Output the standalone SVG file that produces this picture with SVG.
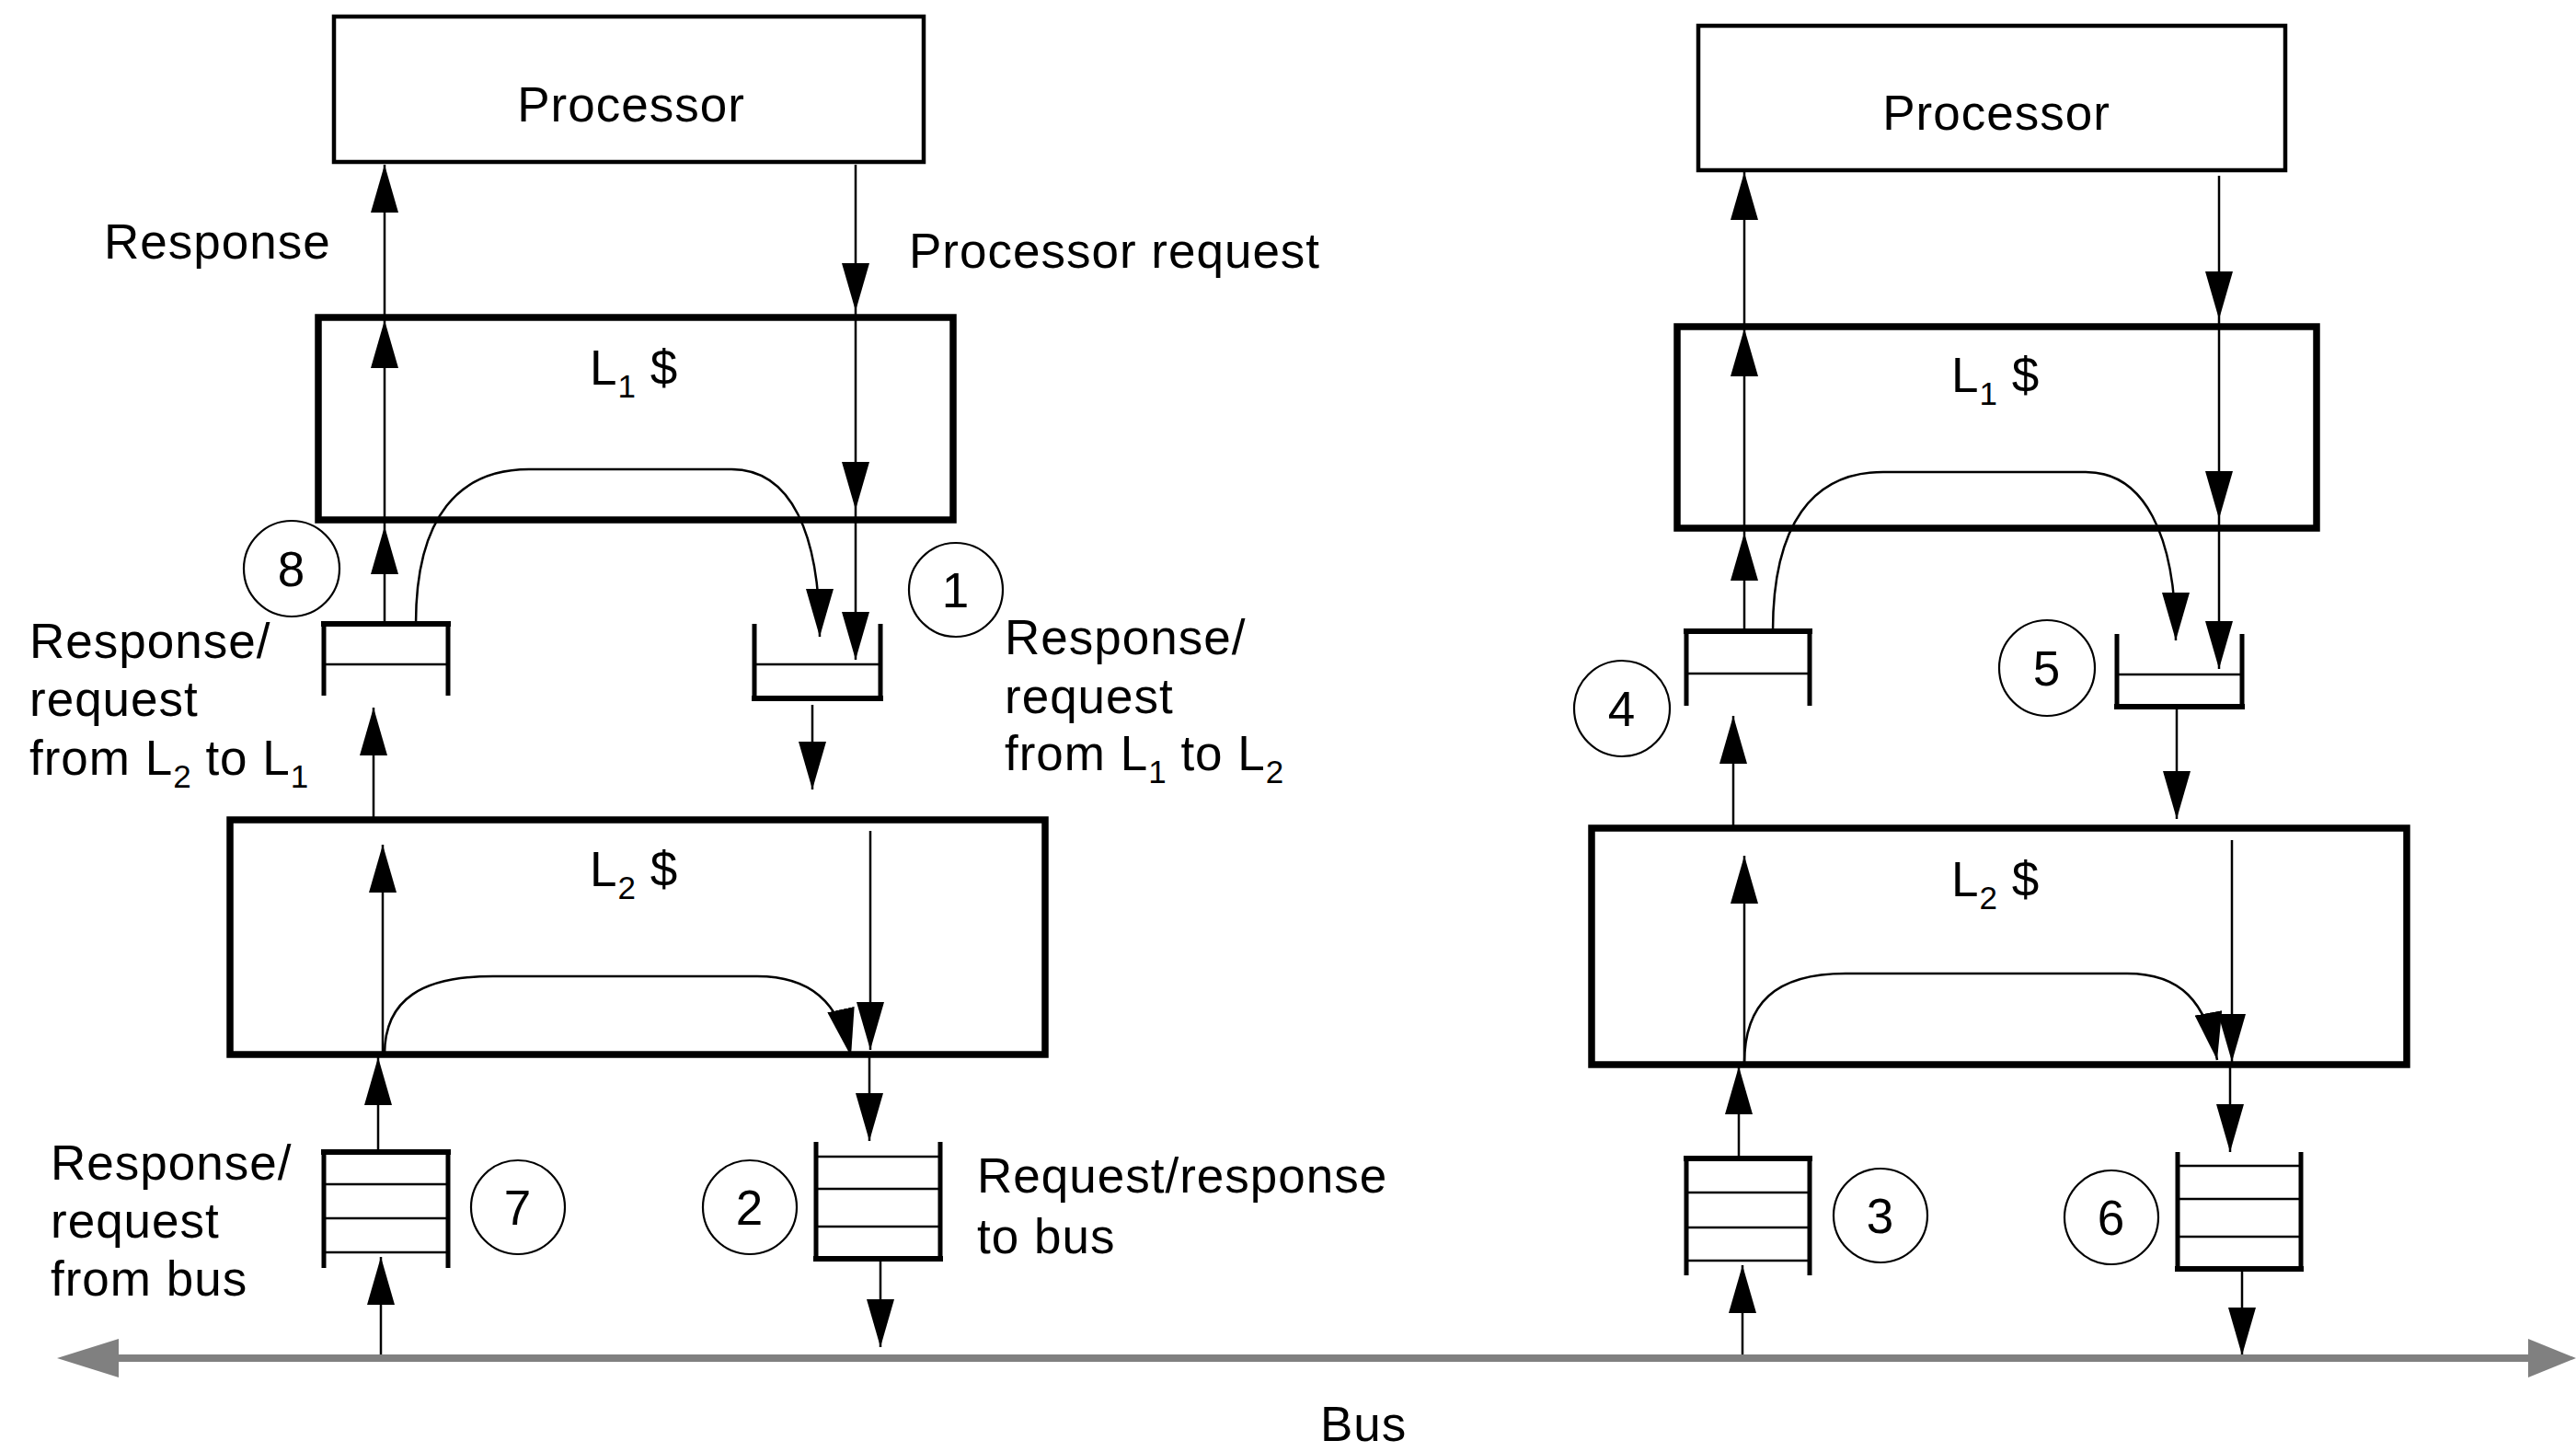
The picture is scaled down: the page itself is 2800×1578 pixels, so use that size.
<svg xmlns="http://www.w3.org/2000/svg" width="2800" height="1578" viewBox="0 0 2800 1578">
<defs>
<marker id="ah" markerUnits="userSpaceOnUse" markerWidth="52" markerHeight="30" viewBox="0 0 52 30" refX="52" refY="15" orient="auto">
<path d="M0,0 L52,15 L0,30 z" fill="#000"/>
</marker>
<style>
.box{fill:#fff;stroke:#000;stroke-width:4.5}
.cache{fill:#fff;stroke:#000;stroke-width:7.5}
.t{font-family:"Liberation Sans",Arial,Helvetica,sans-serif;font-size:53px;letter-spacing:1px;fill:#000}
.c{text-anchor:middle}
.sub{font-size:35px;letter-spacing:0px}
.conn path{fill:none;stroke:#000;stroke-width:2.5;marker-end:url(#ah)}
.q path.side{fill:none;stroke:#000;stroke-width:5}
.q path.thick{fill:none;stroke:#000;stroke-width:6}
.q path.thin{fill:none;stroke:#000;stroke-width:2.5}
.circ circle{fill:#fff;stroke:#000;stroke-width:2.2}
</style>
</defs>
<rect width="2800" height="1578" fill="#fff"/>

<!-- Left column -->
<g id="procL"><rect class="box" x="363" y="18" width="641" height="158"/><text class="t c" x="686" y="132">Processor</text></g>
<g id="l1L"><rect class="cache" x="346" y="345" width="690" height="220"/><text class="t" x="641" y="418">L<tspan class="sub" dy="14">1</tspan><tspan dy="-14"> $</tspan></text></g>
<g id="l2L"><rect class="cache" x="250" y="891" width="886" height="255"/><text class="t" x="641" y="963">L<tspan class="sub" dy="14">2</tspan><tspan dy="-14"> $</tspan></text></g>

<!-- Right column -->
<g id="procR"><rect class="box" x="1846" y="28" width="638" height="157"/><text class="t c" x="2170" y="141">Processor</text></g>
<g id="l1R"><rect class="cache" x="1823" y="355" width="695" height="219"/><text class="t" x="2121" y="426">L<tspan class="sub" dy="14">1</tspan><tspan dy="-14"> $</tspan></text></g>
<g id="l2R"><rect class="cache" x="1730" y="900" width="886" height="257"/><text class="t" x="2121" y="974">L<tspan class="sub" dy="14">2</tspan><tspan dy="-14"> $</tspan></text></g>

<!-- Queues -->
<g id="q8" class="q"><path class="side" d="M352,678 V756 M487,678 V756"/><path class="thick" d="M349,678 H490"/><path class="thin" d="M352,722 H487"/></g>
<g id="q1" class="q"><path class="side" d="M820,678 V759 M957,678 V759"/><path class="thick" d="M817,759 H960"/><path class="thin" d="M820,722 H957"/></g>
<g id="q7" class="q"><path class="side" d="M352,1252 V1378 M487,1252 V1378"/><path class="thick" d="M349,1252 H490"/><path class="thin" d="M352,1287 H487 M352,1324 H487 M352,1361 H487"/></g>
<g id="q2" class="q"><path class="side" d="M887,1241 V1368 M1022,1241 V1368"/><path class="thick" d="M884,1368 H1025"/><path class="thin" d="M887,1257 H1022 M887,1292 H1022 M887,1333 H1022"/></g>
<g id="q4" class="q"><path class="side" d="M1833,686 V767 M1967,686 V767"/><path class="thick" d="M1830,686 H1970"/><path class="thin" d="M1833,732 H1967"/></g>
<g id="q5" class="q"><path class="side" d="M2301,689 V768 M2437,689 V768"/><path class="thick" d="M2298,768 H2440"/><path class="thin" d="M2301,733 H2437"/></g>
<g id="q3" class="q"><path class="side" d="M1833,1259 V1386 M1967,1259 V1386"/><path class="thick" d="M1830,1259 H1970"/><path class="thin" d="M1833,1296 H1967 M1833,1334 H1967 M1833,1370 H1967"/></g>
<g id="q6" class="q"><path class="side" d="M2367,1252 V1379 M2501,1252 V1379"/><path class="thick" d="M2364,1379 H2504"/><path class="thin" d="M2367,1267 H2501 M2367,1303 H2501 M2367,1344 H2501"/></g>

<!-- Step circles -->
<g class="circ">
<g id="s8"><circle cx="317" cy="618" r="52"/><text class="t c" x="317" y="637">8</text></g>
<g id="s1"><circle cx="1039" cy="641" r="51"/><text class="t c" x="1039" y="660">1</text></g>
<g id="s7"><circle cx="563" cy="1312" r="51"/><text class="t c" x="563" y="1331">7</text></g>
<g id="s2"><circle cx="815" cy="1312" r="51"/><text class="t c" x="815" y="1331">2</text></g>
<g id="s4"><circle cx="1763" cy="770" r="52"/><text class="t c" x="1763" y="789">4</text></g>
<g id="s5"><circle cx="2225" cy="726" r="52"/><text class="t c" x="2225" y="745">5</text></g>
<g id="s3"><circle cx="2044" cy="1321" r="51"/><text class="t c" x="2044" y="1340">3</text></g>
<g id="s6"><circle cx="2295" cy="1323" r="51"/><text class="t c" x="2295" y="1342">6</text></g>
</g>

<!-- Labels -->
<g id="labels">
<text class="t" x="113" y="281">Response</text>
<text class="t" x="988" y="291">Processor request</text>
<text class="t" x="32" y="715">Response/</text>
<text class="t" x="32" y="778">request</text>
<text class="t" x="32" y="842">from L<tspan class="sub" dy="14">2</tspan><tspan dy="-14"> to L</tspan><tspan class="sub" dy="14">1</tspan></text>
<text class="t" x="1092" y="711">Response/</text>
<text class="t" x="1092" y="775">request</text>
<text class="t" x="1092" y="837">from L<tspan class="sub" dy="14">1</tspan><tspan dy="-14"> to L</tspan><tspan class="sub" dy="14">2</tspan></text>
<text class="t" x="55" y="1282">Response/</text>
<text class="t" x="55" y="1345">request</text>
<text class="t" x="55" y="1408">from bus</text>
<text class="t" x="1062" y="1296">Request/response</text>
<text class="t" x="1062" y="1362">to bus</text>
<text class="t" x="1435" y="1566">Bus</text>
</g>

<!-- Connectors -->
<g id="connectors" class="conn">
<path d="M418,678 V572"/>
<path d="M418,572 V348"/>
<path d="M418,348 V179"/>
<path d="M930,179 V338"/>
<path d="M930,338 V554"/>
<path d="M930,554 V717"/>
<path d="M452,678 C452,560 500,510 575,510 L795,510 C860,510 891,580 891,692"/>
<path d="M406,891 V769"/>
<path d="M883,766 V858"/>
<path d="M416,1146 V918"/>
<path d="M946,903 V1141"/>
<path d="M418,1146 C418,1085 460,1061 536,1061 L823,1061 C880,1061 912,1088 925,1148"/>
<path d="M945,1146 V1240"/>
<path d="M411,1252 V1149"/>
<path d="M414,1472 V1366"/>
<path d="M957,1368 V1464"/>

<path d="M1896,686 V579"/>
<path d="M1896,579 V357"/>
<path d="M1896,357 V187"/>
<path d="M2412,191 V347"/>
<path d="M2412,347 V564"/>
<path d="M2412,564 V727"/>
<path d="M1927,686 C1927,570 1970,513 2047,513 L2267,513 C2330,513 2365,580 2365,696"/>
<path d="M1884,900 V778"/>
<path d="M2366,768 V890"/>
<path d="M1896,1156 V930"/>
<path d="M2426,913 V1154"/>
<path d="M1896,1156 C1896,1090 1930,1058 2006,1058 L2312,1058 C2370,1058 2398,1088 2410,1152"/>
<path d="M2424,1157 V1252"/>
<path d="M1890,1259 V1159"/>
<path d="M1894,1474 V1375"/>
<path d="M2437,1379 V1473"/>
</g>

<!-- Bus -->
<g id="bus">
<line x1="120" y1="1476" x2="2755" y2="1476" stroke="#808080" stroke-width="8"/>
<polygon points="62,1476 129,1455 129,1497" fill="#808080"/>
<polygon points="2800,1476 2748,1455 2748,1497" fill="#808080"/>
</g>
</svg>
